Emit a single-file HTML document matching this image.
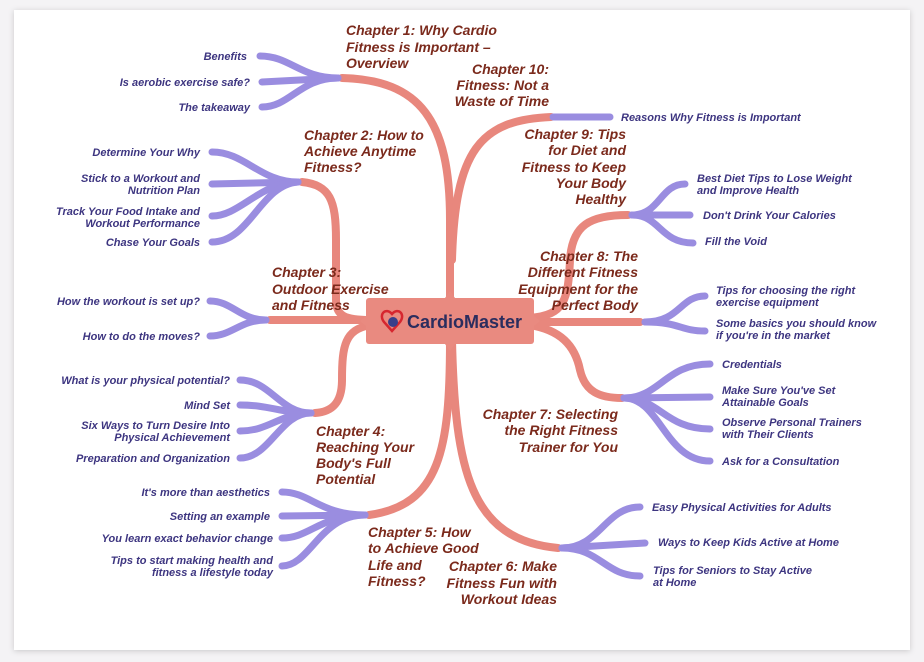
<!DOCTYPE html>
<html><head><meta charset="utf-8"><style>
html,body{margin:0;padding:0;background:#f4f3f5;}
svg{display:block;}
.c{font:italic bold 14px "Liberation Sans",sans-serif;fill:#7b2a1c;}
.l{font:italic bold 11px "Liberation Sans",sans-serif;fill:#3d3580;}
.r{fill:none;stroke:#e8877d;stroke-width:8;stroke-linecap:round;}
.p{fill:none;stroke:#9a8de0;stroke-width:7;stroke-linecap:round;}
</style></head><body>
<svg width="924" height="662" viewBox="0 0 924 662" xmlns="http://www.w3.org/2000/svg">
<defs><filter id="sh" x="-5%" y="-5%" width="110%" height="110%"><feDropShadow dx="0" dy="1" stdDeviation="3" flood-color="#000" flood-opacity="0.18"/></filter></defs>
<rect x="14" y="10" width="896" height="640" fill="#fff" filter="url(#sh)"/>
<!-- red branches -->
<path class="r" d="M342 78 C420 80 450 120 450 220 L450 300"/>
<path class="r" d="M551 117 C480 120 455 150 452 260"/>
<path class="r" d="M302 182 C330 185 336 200 336 240 L336 300 C336 316 345 320 370 320"/>
<path class="r" d="M270 320 L370 320"/>
<path class="r" d="M370 325 C345 330 342 345 342 380 C342 405 330 412 315 413"/>
<path class="r" d="M450 340 C450 450 440 505 369 515"/>
<path class="r" d="M452 340 C455 470 470 540 558 548"/>
<path class="r" d="M530 325 C560 330 575 345 580 370 C585 392 600 398 622 398"/>
<path class="r" d="M530 322 L640 322"/>
<path class="r" d="M530 318 C565 315 568 300 570 260 C572 225 590 215 628 215"/>
<rect x="366" y="298" width="168" height="46" rx="3" fill="#e98a80"/>
<path d="M445 298 L450 291 L455 298Z M445 344 L450 351 L455 344Z M366 316 L360 321 L366 326Z M534 316 L540 321 L534 326Z" fill="#e98a80"/>
<!-- logo -->
<path d="M392 314 c-6-7-14 0-8 8 l8 9 l8-9 c6-8-2-15-8-8z" fill="none" stroke="#d6262f" stroke-width="2.5"/>
<circle cx="393" cy="322" r="5" fill="#3a3f8a"/>
<text x="407" y="328" style="font:bold 18px 'Liberation Sans',sans-serif;fill:#2b2d5e">CardioMaster</text>
<!-- purple fans -->
<g class="p">
<path d="M338 78 C300 78 290 56 260 56"/><path d="M338 78 L262 82"/><path d="M338 78 C300 78 290 107 262 107"/>
<path d="M553 117 L610 117"/>
<path d="M298 182 C260 182 245 152 212 152"/><path d="M298 182 L212 184"/><path d="M298 182 C260 182 240 216 212 216"/><path d="M298 182 C260 185 250 242 212 242"/>
<path d="M266 320 C240 320 232 301 210 301"/><path d="M266 320 C240 320 232 336 210 336"/>
<path d="M311 413 C280 413 270 380 240 380"/><path d="M311 413 C280 413 270 405 240 405"/><path d="M311 413 C280 413 270 431 240 431"/><path d="M311 413 C280 413 270 458 240 458"/>
<path d="M365 515 C320 515 310 492 282 492"/><path d="M365 515 L282 516"/><path d="M365 515 C320 515 310 538 282 538"/><path d="M365 515 C320 515 310 566 282 566"/>
<path d="M562 548 C600 548 605 507 640 507"/><path d="M562 548 L645 543"/><path d="M562 548 C600 548 605 576 640 576"/>
<path d="M624 398 C660 398 665 364 710 364"/><path d="M624 398 L710 397"/><path d="M624 398 C660 398 665 429 710 429"/><path d="M624 398 C660 398 665 461 710 461"/>
<path d="M632 215 C660 215 660 184 685 184"/><path d="M632 215 L690 215"/><path d="M632 215 C660 215 660 243 693 243"/>
<path d="M645 322 C680 322 680 296 705 296"/><path d="M645 322 C680 322 680 331 705 331"/>
</g>
<!-- chapter labels -->
<g class="c">
<text x="346" y="35">Chapter 1: Why Cardio</text><text x="346" y="52">Fitness is Important –</text><text x="346" y="68">Overview</text>
<g text-anchor="end"><text x="549" y="74">Chapter 10:</text><text x="549" y="90">Fitness: Not a</text><text x="549" y="106">Waste of Time</text></g>
<text x="304" y="140">Chapter 2: How to</text><text x="304" y="156">Achieve Anytime</text><text x="304" y="172">Fitness?</text>
<text x="272" y="277">Chapter 3:</text><text x="272" y="294">Outdoor Exercise</text><text x="272" y="310">and Fitness</text>
<text x="316" y="436">Chapter 4:</text><text x="316" y="452">Reaching Your</text><text x="316" y="468">Body's Full</text><text x="316" y="484">Potential</text>
<text x="368" y="537">Chapter 5: How</text><text x="368" y="553">to Achieve Good</text><text x="368" y="570">Life and</text><text x="368" y="586">Fitness?</text>
<g text-anchor="end">
<text x="557" y="571">Chapter 6: Make</text><text x="557" y="588">Fitness Fun with</text><text x="557" y="604">Workout Ideas</text>
<text x="618" y="419">Chapter 7: Selecting</text><text x="618" y="435">the Right Fitness</text><text x="618" y="452">Trainer for You</text>
<text x="638" y="261">Chapter 8: The</text><text x="638" y="277">Different Fitness</text><text x="638" y="294">Equipment for the</text><text x="638" y="310">Perfect Body</text>
<text x="626" y="139">Chapter 9: Tips</text><text x="626" y="155">for Diet and</text><text x="626" y="172">Fitness to Keep</text><text x="626" y="188">Your Body</text><text x="626" y="204">Healthy</text>
</g></g>
<!-- leaves -->
<g class="l">
<g text-anchor="end">
<text x="247" y="60">Benefits</text><text x="250" y="86">Is aerobic exercise safe?</text><text x="250" y="111">The takeaway</text>
<text x="200" y="156">Determine Your Why</text><text x="200" y="182">Stick to a Workout and</text><text x="200" y="194">Nutrition Plan</text>
<text x="200" y="215">Track Your Food Intake and</text><text x="200" y="227">Workout Performance</text><text x="200" y="246">Chase Your Goals</text>
<text x="200" y="305">How the workout is set up?</text><text x="200" y="340">How to do the moves?</text>
<text x="230" y="384">What is your physical potential?</text><text x="230" y="409">Mind Set</text>
<text x="230" y="429">Six Ways to Turn Desire Into</text><text x="230" y="441">Physical Achievement</text><text x="230" y="462">Preparation and Organization</text>
<text x="270" y="496">It's more than aesthetics</text><text x="270" y="520">Setting an example</text><text x="273" y="542">You learn exact behavior change</text>
<text x="273" y="564">Tips to start making health and</text><text x="273" y="576">fitness a lifestyle today</text>
</g>
<text x="621" y="121">Reasons Why Fitness is Important</text>
<text x="697" y="182">Best Diet Tips to Lose Weight</text><text x="697" y="194">and Improve Health</text>
<text x="703" y="219">Don't Drink Your Calories</text><text x="705" y="245">Fill the Void</text>
<text x="716" y="294">Tips for choosing the right</text><text x="716" y="306">exercise equipment</text>
<text x="716" y="327">Some basics you should know</text><text x="716" y="339">if you're in the market</text>
<text x="722" y="368">Credentials</text><text x="722" y="394">Make Sure You've Set</text><text x="722" y="406">Attainable Goals</text>
<text x="722" y="426">Observe Personal Trainers</text><text x="722" y="438">with Their Clients</text><text x="722" y="465">Ask for a Consultation</text>
<text x="652" y="511">Easy Physical Activities for Adults</text><text x="658" y="546">Ways to Keep Kids Active at Home</text>
<text x="653" y="574">Tips for Seniors to Stay Active</text><text x="653" y="586">at Home</text>
</g>
</svg>
</body></html>
